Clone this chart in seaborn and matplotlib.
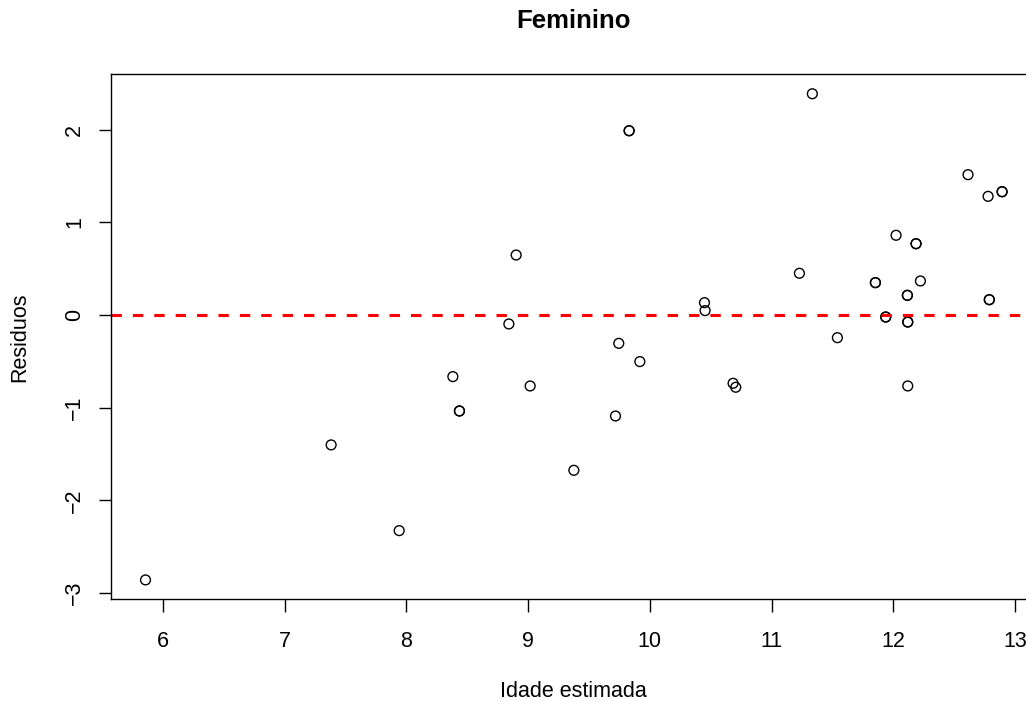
import matplotlib
matplotlib.use("Agg")
import matplotlib.pyplot as plt
import seaborn as sns
import pandas as pd

# Data (fitted age vs residuals); duplicated points drawn twice
idade_estimada = [5.857, 7.382, 7.941, 8.382, 8.436, 8.436, 8.842, 8.902, 9.017, 9.376,
                  9.718, 9.745, 9.830, 9.830, 9.918, 10.449, 10.454, 10.684, 10.706, 11.229,
                  11.335, 11.541, 11.853, 11.853, 11.938, 11.938, 12.023, 12.116, 12.116,
                  12.119, 12.119, 12.119, 12.187, 12.187, 12.223, 12.614, 12.779, 12.789,
                  12.789, 12.894, 12.894]
residuos = [-2.859, -1.402, -2.327, -0.665, -1.036, -1.036, -0.097, 0.647, -0.766, -1.676,
            -1.090, -0.306, 1.988, 1.988, -0.503, 0.133, 0.047, -0.737, -0.780, 0.450,
            2.387, -0.245, 0.349, 0.349, -0.022, -0.022, 0.860, 0.212, 0.212,
            -0.076, -0.076, -0.766, 0.769, 0.769, 0.367, 1.514, 1.280, 0.165,
            0.165, 1.330, 1.330]
x_ticks = [6, 7, 8, 9, 10, 11, 12, 13]
y_ticks = [-3, -2, -1, 0, 1, 2]

df = pd.DataFrame({"Idade estimada": idade_estimada, "Residuos": residuos})

sns.set_theme(style="ticks")
plt.rcParams['font.family'] = ['Liberation Sans', 'DejaVu Sans']
plt.rcParams.update({"text.color": "black", "axes.labelcolor": "black",
                     "xtick.color": "black", "ytick.color": "black",
                     "axes.edgecolor": "black"})

fig = plt.figure(figsize=(10.26, 7.01), dpi=100)
ax = fig.add_axes([111.3 / 1026, 1 - 599.3 / 701, (1036.3 - 111.3) / 1026, (599.3 - 74.3) / 701])

sns.scatterplot(data=df, x="Idade estimada", y="Residuos", ax=ax,
                marker="o", s=50, facecolor="none", edgecolor="black", linewidth=1.0)
ax.axhline(0, color="red", lw=2.2, dashes=(3.4, 3.6))

ax.set_xlim(5.576, 13.175)
ax.set_ylim(-3.068, 2.597)
ax.set_xticks(x_ticks)
ax.set_yticks(y_ticks)
ax.set_xticklabels([str(v) for v in x_ticks], fontsize=15.5)
ax.set_yticklabels(["\u2212" + str(-v) if v < 0 else str(v) for v in y_ticks],
                   fontsize=15.5, rotation=90, va="center")
ax.tick_params(axis="both", direction="out", length=9, width=1, color="black")
ax.tick_params(axis="x", pad=14)
ax.tick_params(axis="y", pad=10)
for s in ax.spines.values():
    s.set_color("black")
    s.set_linewidth(1.0)

ax.set_xlabel("Idade estimada", fontsize=15.5, labelpad=20.5)
ax.set_ylabel("Residuos", fontsize=15.5, labelpad=24)
fig.text(574 / 1026, 1 - 21 / 701, "Feminino", ha="center", va="center",
         fontsize=18.5, fontweight="bold")

fig.savefig("out.png", dpi=100)
